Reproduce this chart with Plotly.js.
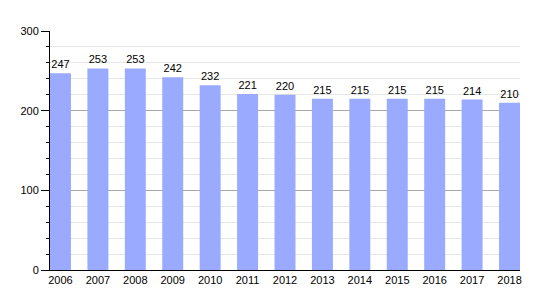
<!DOCTYPE html>
<html><head><meta charset="utf-8">
<script src="https://cdn.plot.ly/plotly-3.0.1.min.js"></script>
<style>body{margin:0;padding:0;background:#fff}#chart{width:550px;height:300px}</style>
</head><body><div id="chart"></div>
<script>
const years = ['2006','2007','2008','2009','2010','2011','2012','2013','2014','2015','2016','2017','2018'];
const population = [247,253,253,242,232,221,220,215,215,215,215,214,210];
const yTicks = [0,100,200,300];

const trace = {
  type: 'bar',
  x: years,
  y: population,
  width: 0.56,
  marker: {color: '#99aaff', line: {width: 0}},
  text: population.map(String),
  textposition: 'outside',
  constraintext: 'none',
  cliponaxis: false,
  textfont: {family: 'Liberation Sans, Arial, sans-serif', size: 11, color: '#000'},
  hoverinfo: 'none'
};

const layout = {
  width: 550, height: 300,
  margin: {l: 50, r: 30, t: 31, b: 30, pad: 0},
  paper_bgcolor: '#fff', plot_bgcolor: '#fff',
  showlegend: false,
  font: {family: 'Liberation Sans, Arial, sans-serif', size: 11, color: '#000'},
  xaxis: {
    type: 'category',
    range: [-0.28, 12.28],
    showline: true, linecolor: '#000', linewidth: 1,
    ticks: '', showgrid: false, zeroline: false,
    tickfont: {size: 11}
  },
  yaxis: {
    range: [0, 300],
    tickvals: yTicks, ticktext: yTicks.map(String),
    showline: true, linecolor: '#000', linewidth: 1,
    ticks: 'outside', ticklen: 8, tickcolor: '#000', tickwidth: 1,
    showgrid: true, gridcolor: '#a6a6a6', gridwidth: 1,
    zeroline: false,
    tickfont: {size: 11},
    minor: {dtick: 20, tick0: 0, showgrid: true, gridcolor: '#e6e6e6', gridwidth: 1,
            ticks: 'outside', ticklen: 3, tickcolor: '#000'}
  },
  bargap: 0.44
};

Plotly.newPlot('chart', [trace], layout, {staticPlot: true, displayModeBar: false});
</script></body></html>
